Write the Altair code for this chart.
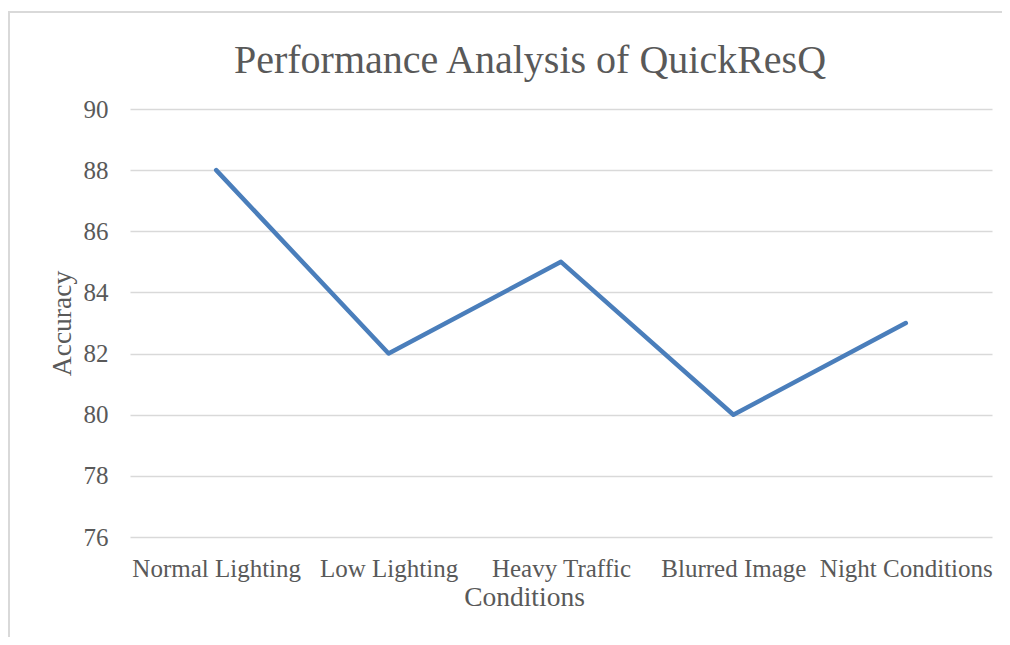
import altair as alt
import pandas as pd

conditions = ["Normal Lighting", "Low Lighting", "Heavy Traffic", "Blurred Image", "Night Conditions"]
accuracy = [88, 82, 85, 80, 83]
y_ticks = [76, 78, 80, 82, 84, 86, 88, 90]

df = pd.DataFrame({"Conditions": conditions, "Accuracy": accuracy})
one = pd.DataFrame({"k": [0]})

FONT = "Liberation Serif"
GRAY = "#595959"

line = alt.Chart(df).mark_line(color="#4a7ebb", strokeWidth=4.5, strokeCap="round", strokeJoin="round").encode(
    x=alt.X("Conditions:N", sort=conditions,
            scale=alt.Scale(type="point", padding=0.5),
            axis=alt.Axis(title="Conditions", labelAngle=0, ticks=False, domain=False, grid=False,
                          labelFont=FONT, labelFontSize=25, labelColor=GRAY, labelPadding=31,
                          labelBaseline="middle",
                          titleFont=FONT, titleFontSize=27.5, titleColor=GRAY, titleFontWeight="normal",
                          titleX=394, titleY=60, titleBaseline="middle")),
    y=alt.Y("Accuracy:Q", scale=alt.Scale(domain=[76, 90], nice=False, zero=False),
            axis=alt.Axis(title="Accuracy", values=y_ticks, ticks=False, domain=False,
                          gridColor="#d9d9d9", gridWidth=1.5,
                          labelFont=FONT, labelFontSize=25, labelColor=GRAY, labelPadding=22,
                          titleFont=FONT, titleFontSize=27.5, titleColor=GRAY, titleFontWeight="normal",
                          titleX=-68, titleY=214, titleBaseline="middle")),
)

top_edge = alt.Chart(one).mark_rule(stroke="#d9d9d9", strokeWidth=2).encode(
    x=alt.value(-122), x2=alt.value(880), y=alt.value(-97)
)
left_edge = alt.Chart(one).mark_rule(stroke="#d9d9d9", strokeWidth=2).encode(
    x=alt.value(-121), y=alt.value(-98), y2=alt.value(600)
)

chart = alt.layer(top_edge, left_edge, line).properties(
    width=862, height=428,
    padding={"left": 122, "top": 101, "right": 10, "bottom": 100},
    autosize=alt.AutoSizeParams(type="none"),
    title=alt.TitleParams("Performance Analysis of QuickResQ", font=FONT, fontSize=40,
                          color=GRAY, fontWeight="normal", anchor="middle", dx=-31, offset=0, dy=71),
).configure_view(stroke=None)

chart.save("out.html", embed_options={"renderer": "svg", "actions": False})
